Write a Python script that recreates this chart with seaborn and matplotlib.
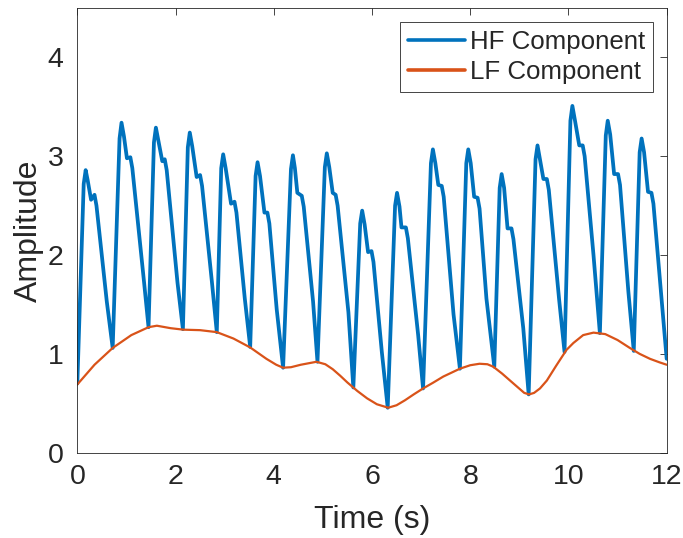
import matplotlib
matplotlib.use("Agg")
import matplotlib.pyplot as plt
import numpy as np
import pandas as pd
import seaborn as sns

# ---- HF component: key points of each beat ----
trough_t = [0.00, 0.72, 1.45, 2.15, 2.84, 3.52, 4.19, 4.89, 5.62, 6.32, 7.04, 7.79, 8.49, 9.19, 9.92, 10.64, 11.33]
trough_v = [0.70, 1.06, 1.27, 1.25, 1.22, 1.07, 0.86, 0.92, 0.66, 0.455, 0.65, 0.85, 0.87, 0.59, 1.02, 1.21, 1.03]
rise_t = [0.13, 0.86, 1.56, 2.25, 2.93, 3.63, 4.35, 5.04, 5.76, 6.47, 7.20, 7.92, 8.60, 9.33, 10.04, 10.76, 11.45]
rise_v = [2.72, 3.18, 3.14, 3.09, 2.88, 2.80, 2.87, 2.89, 2.32, 2.50, 2.93, 2.93, 2.68, 2.97, 3.36, 3.21, 3.04]
peak_t = [0.17, 0.90, 1.60, 2.29, 2.97, 3.67, 4.39, 5.08, 5.80, 6.51, 7.24, 7.96, 8.64, 9.37, 10.08, 10.80, 11.49]
peak_v = [2.86, 3.34, 3.29, 3.24, 3.02, 2.94, 3.01, 3.03, 2.45, 2.63, 3.07, 3.07, 2.82, 3.11, 3.51, 3.36, 3.18]
after_t = [0.21, 0.95, 1.65, 2.34, 3.02, 3.72, 4.43, 5.13, 5.85, 6.56, 7.29, 8.01, 8.69, 9.42, 10.13, 10.85, 11.54]
after_v = [2.76, 3.20, 3.16, 3.10, 2.88, 2.80, 2.88, 2.89, 2.31, 2.49, 2.93, 2.93, 2.68, 2.97, 3.37, 3.22, 3.04]
notch_t = [0.28, 1.01, 1.73, 2.43, 3.13, 3.81, 4.48, 5.20, 5.92, 6.60, 7.35, 8.08, 8.76, 9.49, 10.22, 10.93, 11.62]
notch_v = [2.56, 2.98, 2.95, 2.79, 2.52, 2.43, 2.63, 2.63, 2.03, 2.28, 2.71, 2.59, 2.27, 2.77, 3.11, 2.82, 2.64]
second_t = [0.35, 1.08, 1.78, 2.50, 3.20, 3.87, 4.57, 5.26, 5.99, 6.69, 7.42, 8.15, 8.84, 9.56, 10.29, 11.01, 11.69]
second_v = [2.61, 2.99, 2.97, 2.81, 2.54, 2.43, 2.60, 2.61, 2.04, 2.28, 2.70, 2.58, 2.27, 2.77, 3.11, 2.82, 2.63]
fall_t = [0.39, 1.12, 1.82, 2.54, 3.24, 3.91, 4.61, 5.30, 6.03, 6.73, 7.46, 8.19, 8.88, 9.60, 10.33, 11.05, 11.73]
fall_v = [2.50, 2.88, 2.86, 2.70, 2.43, 2.32, 2.49, 2.50, 1.93, 2.17, 2.59, 2.47, 2.16, 2.66, 3.00, 2.71, 2.52]
shoulder_t = [0.60, 1.36, 2.04, 2.74, 3.41, 4.06, 4.80, 5.52, 6.20, 6.94, 7.66, 8.33, 9.08, 9.81, 10.51, 11.22, 11.86]
shoulder_v = [1.53, 1.72, 1.72, 1.73, 1.56, 1.45, 1.53, 1.42, 1.02, 1.19, 1.40, 1.56, 1.26, 1.55, 2.00, 1.63, 1.76]
end_t = [12.0]
end_v = [0.95]

# ---- LF component ----
lf_t = [0, 0.35, 0.72, 1.1, 1.45, 1.62, 1.9, 2.16, 2.5, 2.84, 3.18, 3.52, 3.85, 4.05, 4.19,
        4.35, 4.55, 4.87, 5.05, 5.2, 5.35, 5.5, 5.7, 5.9, 6.1, 6.33, 6.5, 6.67, 6.85, 7.04,
        7.25, 7.45, 7.62, 7.79, 8.0, 8.19, 8.35, 8.47, 8.65, 8.88, 9.1, 9.2, 9.3, 9.42, 9.56,
        9.75, 9.96, 10.1, 10.3, 10.51, 10.75, 11.0, 11.25, 11.45, 11.66, 11.85, 12]
lf_v = [0.69, 0.89, 1.06, 1.19, 1.27, 1.285, 1.26, 1.245, 1.24, 1.22, 1.155, 1.065, 0.95, 0.89, 0.86,
        0.865, 0.89, 0.92, 0.895, 0.845, 0.78, 0.71, 0.625, 0.55, 0.49, 0.455, 0.48, 0.53, 0.59, 0.65,
        0.71, 0.77, 0.81, 0.85, 0.885, 0.90, 0.895, 0.87, 0.80, 0.70, 0.605, 0.59, 0.605, 0.65, 0.73,
        0.88, 1.04, 1.11, 1.19, 1.215, 1.20, 1.14, 1.06, 1.00, 0.95, 0.915, 0.89]

x_ticks = [0, 2, 4, 6, 8, 10, 12]
y_ticks = [0, 1, 2, 3, 4]

# assemble HF curve in time order
hf_t, hf_v = [], []
for i in range(len(peak_t)):
    hf_t += [trough_t[i], rise_t[i], peak_t[i], after_t[i], notch_t[i], second_t[i], fall_t[i], shoulder_t[i]]
    hf_v += [trough_v[i], rise_v[i], peak_v[i], after_v[i], notch_v[i], second_v[i], fall_v[i], shoulder_v[i]]
hf_t += end_t
hf_v += end_v

hf = pd.DataFrame({"t": hf_t, "v": hf_v})
lf = pd.DataFrame({"t": lf_t, "v": lf_v})

sns.set_style("white")
plt.rcParams["font.family"] = ["Liberation Sans", "DejaVu Sans"]

fig = plt.figure(figsize=(6.83, 5.38), dpi=100)
ax = fig.add_axes([0.1132, 0.1586, 0.8629, 0.8264])

blue = "#0072BD"
orange = "#D95319"
sns.lineplot(data=hf, x="t", y="v", ax=ax, color=blue, linewidth=2.7,
             sort=False, estimator=None, label="HF Component",
             solid_joinstyle="round", solid_capstyle="round")
sns.lineplot(data=lf, x="t", y="v", ax=ax, color=orange, linewidth=1.6,
             sort=False, estimator=None, label="LF Component",
             solid_joinstyle="round")

ax.set_xlim(0, 12)
ax.set_ylim(0, 4.5)
ax.set_xticks(x_ticks)
ax.set_yticks(y_ticks)
ax.set_xlabel("Time (s)", fontsize=23, color="#262626", labelpad=11)
ax.set_ylabel("Amplitude", fontsize=23, color="#262626", labelpad=2.5)

for s in ax.spines.values():
    s.set_visible(True)
    s.set_color("#262626")
    s.set_linewidth(0.6)
ax.tick_params(axis="both", which="both", direction="in", length=5, width=0.6,
               colors="#262626", labelsize=20.5, top=True, right=True,
               labeltop=False, labelright=False)
ax.tick_params(axis="x", pad=8)
ax.tick_params(axis="y", pad=10)
for lab in ax.get_xticklabels() + ax.get_yticklabels():
    lab.set_color("#262626")

leg = ax.legend(loc="upper right", bbox_to_anchor=(0.977, 0.9685), borderaxespad=0,
                fontsize=18.6, frameon=True, fancybox=False, framealpha=1,
                edgecolor="#262626", handlelength=2.2, handletextpad=0.2,
                labelspacing=0.25, borderpad=0.3)
leg.get_frame().set_linewidth(0.6)
for line in leg.get_lines():
    line.set_linewidth(2.6)

fig.savefig("out.png", dpi=100)
